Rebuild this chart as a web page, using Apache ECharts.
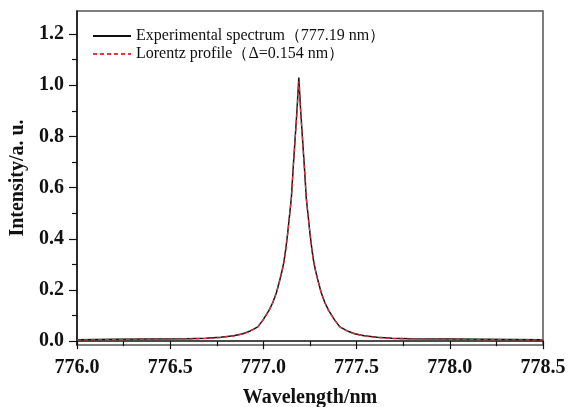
<!DOCTYPE html>
<html>
<head>
<meta charset="utf-8">
<script src="https://cdn.jsdelivr.net/npm/echarts@6/dist/echarts.min.js"></script>
<style>
html,body{margin:0;padding:0;background:#fff;}
#chart{width:573px;height:407px;}
</style>
</head>
<body>
<div id="chart"></div>
<script>
// wavelength samples (nm)
var wl = [776.0, 776.19, 776.39, 776.59, 776.69, 776.77, 776.84, 776.89, 776.93, 776.97, 777.0, 777.03, 777.05, 777.07,
	777.09, 777.10, 777.11, 777.12, 777.13, 777.14, 777.15, 777.16, 777.17, 777.18, 777.19,
	777.20, 777.21, 777.22, 777.23, 777.24, 777.25, 777.26, 777.27, 777.28, 777.29, 777.31, 777.33, 777.35,
	777.38, 777.41, 777.45, 777.49, 777.54, 777.61, 777.69, 777.79, 777.99, 778.19, 778.5];
// measured spectrum
var expVals = [0.006, 0.007, 0.008, 0.009, 0.011, 0.015, 0.021, 0.029, 0.040, 0.056, 0.085, 0.120, 0.150, 0.190,
	0.245, 0.275, 0.310, 0.360, 0.420, 0.490, 0.560, 0.680, 0.790, 0.900, 1.030,
	0.900, 0.790, 0.680, 0.560, 0.490, 0.420, 0.360, 0.310, 0.275, 0.245, 0.190, 0.150, 0.120,
	0.085, 0.056, 0.040, 0.029, 0.021, 0.015, 0.011, 0.009, 0.008, 0.007, 0.006];
// lorentz fit
var fitVals = [0.005, 0.006, 0.007, 0.008, 0.010, 0.014, 0.020, 0.028, 0.039, 0.055, 0.084, 0.119, 0.149, 0.189,
	0.243, 0.273, 0.308, 0.357, 0.417, 0.487, 0.557, 0.675, 0.785, 0.890, 1.015,
	0.890, 0.785, 0.675, 0.557, 0.487, 0.417, 0.357, 0.308, 0.273, 0.243, 0.189, 0.149, 0.119,
	0.084, 0.055, 0.039, 0.028, 0.020, 0.014, 0.010, 0.008, 0.007, 0.006, 0.005];
var names = ['Experimental spectrum（777.19 nm）', 'Lorentz profile（Δ=0.154 nm）'];
var yTicks = [0, 0.2, 0.4, 0.6, 0.8, 1.0, 1.2];
var yMinor = [0.1, 0.3, 0.5, 0.7, 0.9, 1.1];

var font = '"Liberation Serif","Times New Roman",serif';
var dom = echarts.init(document.getElementById('chart'));

function pairs(vals){
	var out = [];
	for(var i=0;i<wl.length;i++){
		out.push([wl[i], vals[i]]);
	}
	return out;
}

var option = {
	animation: false,
	grid: {
		left: 77, top: 11, right: 30, bottom: 62,
		outerBoundsMode: 'none', containLabel: false,
		show: true, borderColor: '#555', borderWidth: 1.5
	},
	legend: {
		orient: 'vertical',
		left: 87, top: 23,
		itemWidth: 38, itemHeight: 10, itemGap: 2,
		data: names,
		itemStyle: {opacity: 0},
		textStyle: {fontFamily: font, fontSize: 16, color: '#111'}
	},
	xAxis: {
		type: 'value',
		min: 776, max: 778.5, interval: 0.5,
		name: 'Wavelength/nm',
		nameLocation: 'middle', nameGap: 43,
		nameTextStyle: {fontFamily: font, fontSize: 20, fontWeight: 'bold', color: '#111'},
		axisLine: {lineStyle: {color: '#111', width: 1.5}},
		axisTick: {show: true, inside: false, length: 8, lineStyle: {color: '#111', width: 1.2}},
		minorTick: {show: true, splitNumber: 2, length: 5, lineStyle: {color: '#111', width: 1.2}},
		axisLabel: {
			fontFamily: font, fontSize: 20, fontWeight: 'bold', color: '#111', margin: 13,
			formatter: function(v){ return v.toFixed(1); }
		},
		splitLine: {show: false}
	},
	yAxis: [{
		type: 'value',
		min: -0.015, max: 1.29,
		name: 'Intensity/a. u.',
		nameLocation: 'middle', nameGap: 46,
		nameTextStyle: {fontFamily: font, fontSize: 20, fontWeight: 'bold', color: '#111'},
		axisLine: {show: true, lineStyle: {color: '#111', width: 1.5}},
		axisTick: {show: true, length: 8, customValues: yTicks, lineStyle: {color: '#111', width: 1.2}},
		axisLabel: {
			fontFamily: font, fontSize: 20, fontWeight: 'bold', color: '#111', margin: 13,
			customValues: yTicks,
			formatter: function(v){ return v.toFixed(1); }
		},
		splitLine: {show: false}
	}, {
		type: 'value',
		position: 'left',
		min: -0.015, max: 1.29,
		axisLine: {show: false},
		axisTick: {show: true, length: 5, customValues: yMinor, lineStyle: {color: '#111', width: 1.2}},
		axisLabel: {show: false},
		splitLine: {show: false}
	}],
	series: [{
		name: names[0],
		type: 'line',
		data: pairs(expVals),
		showSymbol: false, symbol: 'none',
		lineStyle: {color: '#111', width: 1.5},
		itemStyle: {color: '#111'},
		z: 2
	}, {
		name: names[1],
		type: 'line',
		data: pairs(fitVals),
		showSymbol: false, symbol: 'none',
		lineStyle: {color: '#e8333a', width: 1.2, type: [4, 3]},
		itemStyle: {color: '#e8333a'},
		z: 3
	}]
};
dom.setOption(option);
</script>
</body>
</html>
